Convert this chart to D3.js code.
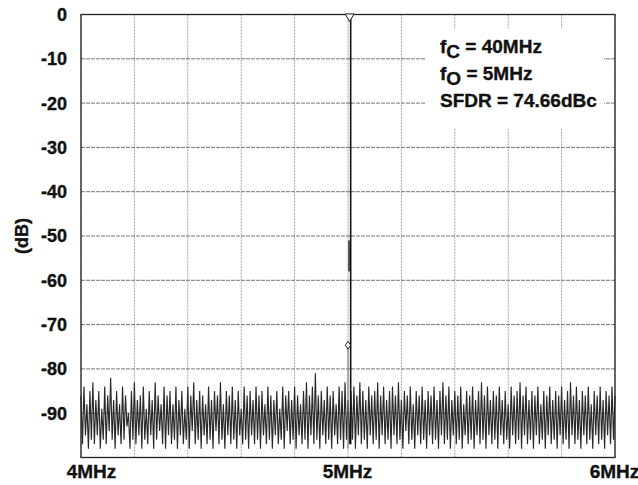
<!DOCTYPE html>
<html>
<head>
<meta charset="utf-8">
<script src="https://cdn.jsdelivr.net/npm/d3@7"></script>
<style>
  body { margin: 0; background: #fff; }
  svg { font-family: 'Liberation Sans', Arial, sans-serif; font-weight: bold; }
  svg text { fill: #111; stroke: #111; stroke-width: 0.35px; }
</style>
</head>
<body>
<svg id="chart"></svg>
<script>
// axis ticks
const xGridMHz = [4, 4.2, 4.4, 4.6, 4.8, 5, 5.2, 5.4, 5.6, 5.8, 6];
const xTickValues = [4, 5, 6];
const xTickLabels = ['4MHz', '5MHz', '6MHz'];
const yTickValues = [0, -10, -20, -30, -40, -50, -60, -70, -80, -90];
const yGridValues = [0, -10, -20, -30, -40, -50, -60, -70, -80, -90, -100];

// FFT trace, 4MHz..6MHz, 361 bins (dB)
const startMHz = 4, stopMHz = 6;
const noiseDb = [
  -86,-97,-84,-95,-88,-98,-85,-96,-83,-97,-87,-95,-85,-98,-89,-96,-84,-97,-86,-94,
  -82,-96,-87,-98,-85,-95,-88,-97,-84,-96,-86,-93,-90,-98,-85,-96,-83,-97,-87,-95,
  -86,-98,-84,-96,-89,-97,-85,-95,-87,-98,-83,-96,-86,-94,-88,-97,-84,-98,-86,-95,
  -85,-97,-88,-96,-84,-98,-87,-95,-85,-97,-89,-96,-84,-98,-86,-94,-83,-97,-87,-96,
  -85,-98,-86,-95,-88,-97,-84,-96,-87,-98,-85,-94,-86,-97,-83,-96,-88,-98,-85,-95,
  -86,-97,-84,-96,-87,-98,-85,-95,-89,-97,-84,-96,-86,-98,-85,-95,-87,-97,-84,-96,
  -86,-98,-85,-95,-88,-97,-84,-96,-86,-98,-87,-95,-85,-97,-89,-96,-84,-98,-86,-94,
  -85,-97,-87,-96,-84,-98,-86,-95,-88,-97,-85,-96,-83,-98,-86,-95,-84,-97,-81,-96,
  -86,-98,-85,-95,-87,-97,-84,-96,-86,-98,-85,-95,-88,-97,-84,-96,-85,-98,-83,-96,
  -87,-97,-85,-96,-84,-98,-86,-95,-83,-97,-85,-96,-87,-98,-84,-95,-86,-97,-85,-96,
  -83,-98,-86,-95,-84,-97,-87,-96,-85,-98,-84,-95,-86,-97,-83,-96,-87,-98,-85,-94,
  -86,-97,-84,-96,-88,-98,-85,-95,-86,-97,-84,-96,-87,-98,-85,-95,-86,-97,-84,-96,
  -87,-98,-85,-95,-83,-97,-86,-96,-84,-98,-87,-95,-85,-97,-86,-96,-84,-98,-88,-95,
  -85,-97,-86,-96,-84,-98,-87,-95,-85,-97,-83,-96,-86,-98,-84,-95,-87,-97,-85,-96,
  -86,-98,-84,-95,-87,-97,-85,-96,-88,-98,-84,-95,-86,-97,-85,-96,-83,-98,-86,-95,
  -84,-97,-87,-96,-85,-98,-86,-95,-84,-97,-88,-96,-85,-98,-86,-95,-84,-97,-87,-96,
  -85,-98,-86,-95,-84,-97,-87,-96,-85,-98,-83,-95,-86,-97,-84,-96,-87,-98,-85,-95,
  -86,-97,-84,-96,-88,-98,-85,-95,-86,-97,-84,-96,-87,-98,-85,-95,-86,-97,-84,-96,
  -86
];

// carrier, spur and a short residual segment
const carrierMHz = 5.01, carrierDb = [-97, 0];
const spurMHz = 5.0, spurDb = [-98, -74.66];
const residualMHz = 5.004, residualDb = [-58, -51];

const notes = [
  {main: 'f', sub: 'C', rest: ' = 40MHz'},
  {main: 'f', sub: 'O', rest: ' = 5MHz'},
  {main: 'SFDR = 74.66dBc', sub: '', rest: ''}
];

const margin = {top: 14.5, right: 23, bottom: 27.5, left: 81},
  width = 534,
  height = 443;

const svg = d3.select('#chart')
  .attr('width', 638)
  .attr('height', 485);

const chart = svg.append('g')
  .attr('transform', `translate(${margin.left}, ${margin.top})`);

const x = d3.scaleLinear().domain([startMHz, stopMHz]).range([0, width]);
const y = d3.scaleLinear().domain([-100, 0]).range([height, 0]);

// grid
chart.selectAll('.vgrid')
  .data(xGridMHz)
  .enter().append('line')
  .attr('x1', d => x(d)).attr('x2', d => x(d))
  .attr('y1', 0).attr('y2', height)
  .attr('stroke', '#999')
  .attr('stroke-width', 0.9)
  .attr('stroke-dasharray', '2,1');

chart.selectAll('.hgrid')
  .data(yGridValues)
  .enter().append('line')
  .attr('x1', 0).attr('x2', width)
  .attr('y1', d => y(d)).attr('y2', d => y(d))
  .attr('stroke', '#666')
  .attr('stroke-width', 0.9)
  .attr('stroke-dasharray', '4,1');

// white box behind the notes
chart.append('rect')
  .attr('x', 344).attr('y', 14)
  .attr('width', 179).attr('height', 100)
  .attr('fill', '#fff');

// trace
const step = (stopMHz - startMHz) / (noiseDb.length - 1);
const trace = d3.line()
  .x((d, i) => x(startMHz + i * step))
  .y(d => y(d));

chart.append('path')
  .datum(noiseDb)
  .attr('d', trace)
  .attr('fill', 'none')
  .attr('stroke', '#2a2a2a')
  .attr('stroke-width', 1.15);

chart.append('line')
  .attr('x1', x(spurMHz)).attr('x2', x(spurMHz))
  .attr('y1', y(spurDb[0])).attr('y2', y(spurDb[1]))
  .attr('stroke', '#777')
  .attr('stroke-width', 1);

chart.append('line')
  .attr('x1', x(residualMHz)).attr('x2', x(residualMHz))
  .attr('y1', y(residualDb[0])).attr('y2', y(residualDb[1]))
  .attr('stroke', '#333')
  .attr('stroke-width', 1.6);

chart.append('line')
  .attr('x1', x(carrierMHz)).attr('x2', x(carrierMHz))
  .attr('y1', y(carrierDb[0])).attr('y2', y(carrierDb[1]))
  .attr('stroke', '#111')
  .attr('stroke-width', 1.6);

// frame
chart.append('rect')
  .attr('width', width).attr('height', height)
  .attr('fill', 'none')
  .attr('stroke', '#222')
  .attr('stroke-width', 1.3);

// markers
chart.append('path')
  .attr('d', d3.symbol(d3.symbolTriangle, 34))
  .attr('transform', `translate(${x(carrierMHz) - 1},${y(carrierDb[1]) + 2}) rotate(180)`)
  .attr('fill', '#fff')
  .attr('stroke', '#222')
  .attr('stroke-width', 1);

chart.append('path')
  .attr('d', 'M0,-4L2.6,0L0,4L-2.6,0Z')
  .attr('transform', `translate(${x(spurMHz)},${y(spurDb[1])})`)
  .attr('fill', '#fff')
  .attr('stroke', '#222')
  .attr('stroke-width', 1);

// y tick labels
chart.selectAll('.ylab')
  .data(yTickValues)
  .enter().append('text')
  .attr('x', -14)
  .attr('y', d => y(d))
  .attr('dy', '0.36em')
  .attr('text-anchor', 'end')
  .style('font-size', '18px')
  .text(d => d);

// x tick labels
chart.selectAll('.xlab')
  .data(xTickValues)
  .enter().append('text')
  .attr('x', d => x(d))
  .attr('dx', (d, i) => i === 0 ? 10.5 : -0.5)
  .attr('y', height + 20)
  .attr('text-anchor', 'middle')
  .style('font-size', '19px')
  .text((d, i) => xTickLabels[i]);

// y title
svg.append('text')
  .attr('transform', `translate(28,${margin.top + height / 2}) rotate(-90)`)
  .attr('text-anchor', 'middle')
  .style('font-size', '18px')
  .text('(dB)');

// notes
const note = chart.selectAll('.note')
  .data(notes)
  .enter().append('text')
  .attr('x', 359)
  .attr('y', (d, i) => 38.5 + i * 27)
  .style('font-size', '19px');

note.append('tspan').text(d => d.main);
note.append('tspan').attr('dy', 5).text(d => d.sub);
note.append('tspan').attr('dy', -5).text(d => d.rest);
</script>
</body>
</html>
